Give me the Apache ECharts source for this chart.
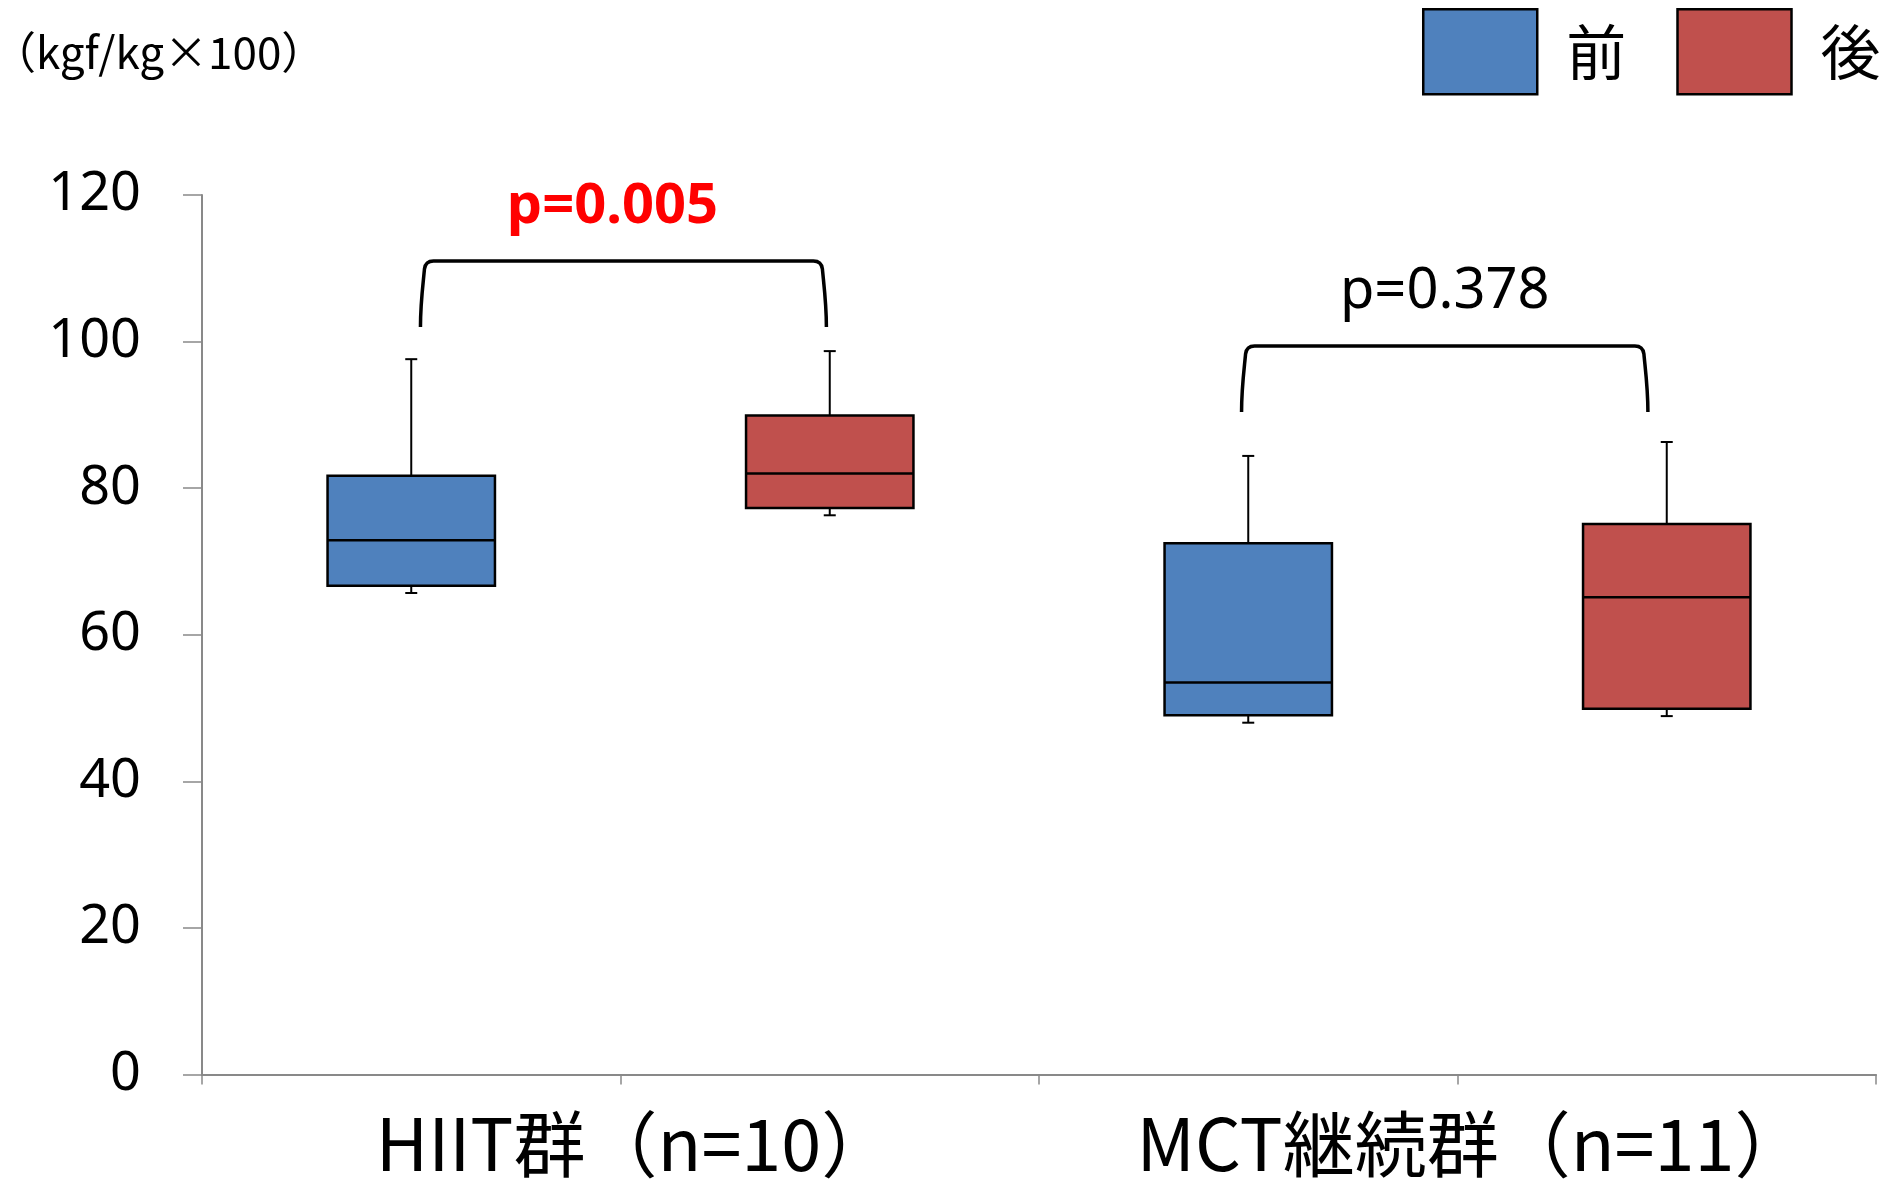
<!DOCTYPE html>
<html><head><meta charset="utf-8">
<script src="https://cdn.jsdelivr.net/npm/echarts@6/dist/echarts.min.js"></script>
<style>html,body{margin:0;padding:0;background:#fff}#c{width:1884px;height:1185px}</style>
</head><body><div id="c"></div>
<script>
// ---- data ----
const groups = ['HIIT群（n=10）', 'MCT継続群（n=11）'];
const phases = ['前', '後'];
const slots = ['HIIT前', 'HIIT後', 'MCT前', 'MCT後'];
const yMin = 0, yMax = 120, yStep = 20;
// [slot index, min, Q1, median, Q3, max]
const beforeBoxes = [[0, 65.7, 66.7, 72.9, 81.7, 97.6], [2, 48.0, 49.0, 53.5, 72.5, 84.4]];
const afterBoxes  = [[1, 76.3, 77.3, 82.0, 89.9, 98.7], [3, 48.9, 49.9, 65.1, 75.1, 86.3]];
// [from slot, to slot, top value, leg bottom value]
const brackets = [[0, 1, 111.0, 102.0], [2, 3, 99.4, 90.4]];
// small shifts of the bracket legs, as a share of one slot: [left, right]
const bracketShifts = [[0.022, -0.008], [-0.016, -0.045]];
const pLabels = ['p=0.005', 'p=0.378'];
const unitLabel = '（kgf/kg×100）';

// ---- styles ----
const phaseColors = ['#4F81BD', '#C0504D'];
const pStyles = [
  {fill: '#FF0000', fontWeight: 'bold', fontSize: 56, dx: -11},
  {fill: '#000000', fontWeight: 'normal', fontSize: 56, dx: 0}
];
const axisGrey = '#898989';

function renderBox(params, api) {
  const x = api.value(0);
  const lo = api.coord([x, api.value(1)]);
  const q1 = api.coord([x, api.value(2)]);
  const md = api.coord([x, api.value(3)]);
  const q3 = api.coord([x, api.value(4)]);
  const hi = api.coord([x, api.value(5)]);
  const band = api.size([1, 0])[0];
  const w = band * 0.4;
  const cx = lo[0];
  const cap = 6;
  const ls = {stroke: '#000', lineWidth: 2};
  return {type: 'group', children: [
    {type: 'line', shape: {x1: cx, y1: hi[1], x2: cx, y2: q3[1]}, style: ls},
    {type: 'line', shape: {x1: cx, y1: q1[1], x2: cx, y2: lo[1]}, style: ls},
    {type: 'line', shape: {x1: cx - cap, y1: hi[1], x2: cx + cap, y2: hi[1]}, style: ls},
    {type: 'line', shape: {x1: cx - cap, y1: lo[1], x2: cx + cap, y2: lo[1]}, style: ls},
    {type: 'rect', shape: {x: cx - w / 2, y: q3[1], width: w, height: q1[1] - q3[1]},
      style: {fill: api.visual('color'), stroke: '#000', lineWidth: 2.5}},
    {type: 'line', shape: {x1: cx - w / 2, y1: md[1], x2: cx + w / 2, y2: md[1]}, style: {stroke: '#000', lineWidth: 2.5}}
  ]};
}

function renderBracket(params, api) {
  const i = params.dataIndex;
  const band = api.size([1, 0])[0];
  const l = api.coord([api.value(0), api.value(2)]);
  const r = api.coord([api.value(1), api.value(2)]);
  const b = api.coord([api.value(0), api.value(3)])[1];
  const t = l[1];
  const xl = l[0] + bracketShifts[i][0] * band;
  const xr = r[0] + bracketShifts[i][1] * band;
  const d = 'M' + xl + ' ' + b +
    ' C' + xl + ' ' + (b - 25) + ' ' + (xl + 3) + ' ' + (t + 20) + ' ' + (xl + 4) + ' ' + (t + 8) +
    ' Q' + (xl + 5) + ' ' + t + ' ' + (xl + 13) + ' ' + t +
    ' L' + (xr - 13) + ' ' + t +
    ' Q' + (xr - 5) + ' ' + t + ' ' + (xr - 4) + ' ' + (t + 8) +
    ' C' + (xr - 3) + ' ' + (t + 20) + ' ' + xr + ' ' + (b - 25) + ' ' + xr + ' ' + b;
  const s = pStyles[i];
  return {type: 'group', children: [
    {type: 'path', shape: {pathData: d}, style: {stroke: '#000', lineWidth: 3.5, fill: null}},
    {type: 'text', style: {text: pLabels[i], x: (xl + xr) / 2 + s.dx, y: t - 54, align: 'center', verticalAlign: 'middle',
      fill: s.fill, fontWeight: s.fontWeight, fontSize: s.fontSize, fontFamily: '"Noto Sans"'}}
  ]};
}

const chart = echarts.init(document.getElementById('c'), null, {renderer: 'canvas'});
chart.setOption({
  animation: false,
  backgroundColor: '#fff',
  title: {text: unitLabel, left: -8, top: 30, padding: 0,
    textStyle: {fontSize: 44, fontWeight: 'normal', fontFamily: '"Noto Sans CJK JP"', color: '#000'}},
  legend: {left: 1422, top: 8, padding: 0, width: 600, itemWidth: 114, itemHeight: 85, itemGap: 50, icon: 'rect',
    data: phases, selectedMode: false,
    itemStyle: {borderColor: '#000', borderWidth: 2.5},
    textStyle: {fontSize: 60, fontFamily: '"Noto Sans CJK JP"', color: '#000', padding: [0, 0, 0, 24]}},
  grid: {left: 202, right: 8, top: 195, bottom: 110.5, containLabel: false, outerBoundsMode: 'none'},
  xAxis: [
    {type: 'category', data: slots, position: 'bottom',
      axisLine: {lineStyle: {color: axisGrey, width: 2}},
      axisTick: {show: true, length: 10, lineStyle: {color: axisGrey, width: 1.5}},
      axisLabel: {show: false}, splitLine: {show: false}},
    {type: 'category', data: groups, position: 'bottom',
      axisLine: {show: false}, axisTick: {show: false}, splitLine: {show: false},
      axisLabel: {interval: 0, hideOverlap: false, fontSize: 72, fontFamily: '"Noto Sans CJK JP"', color: '#000',
        margin: 33, padding: [0, 0, 0, 28]}}
  ],
  yAxis: {type: 'value', min: yMin, max: yMax, interval: yStep,
    axisLine: {show: true, lineStyle: {color: axisGrey, width: 2}},
    axisTick: {show: true, length: 19, lineStyle: {color: axisGrey, width: 1.5}},
    splitLine: {show: false},
    axisLabel: {fontSize: 54, fontFamily: '"Noto Sans"', color: '#000', margin: 61}},
  series: [
    {type: 'custom', name: phases[0], xAxisIndex: 0, data: beforeBoxes, encode: {x: 0, y: [1, 2, 3, 4, 5]},
      itemStyle: {color: phaseColors[0]}, renderItem: renderBox},
    {type: 'custom', name: phases[1], xAxisIndex: 0, data: afterBoxes, encode: {x: 0, y: [1, 2, 3, 4, 5]},
      itemStyle: {color: phaseColors[1]}, renderItem: renderBox},
    {type: 'custom', name: 'p', xAxisIndex: 0, data: brackets, encode: {x: [0, 1], y: [2, 3]},
      renderItem: renderBracket, silent: true}
  ]
});
</script></body></html>
